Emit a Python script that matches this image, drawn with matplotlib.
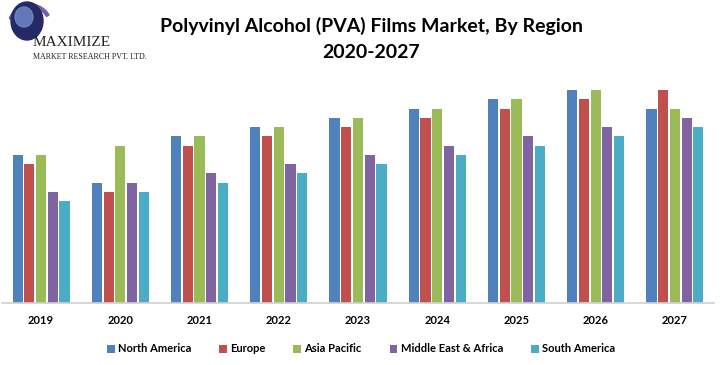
import matplotlib
matplotlib.use("Agg")
import matplotlib.pyplot as plt
import numpy as np
from matplotlib.patches import Ellipse, Wedge

years = ["2019", "2020", "2021", "2022", "2023", "2024", "2025", "2026", "2027"]
regions = ["North America", "Europe", "Asia Pacific", "Middle East & Africa", "South America"]
north_america = [16, 13, 18, 19, 20, 21, 22, 23, 21]
europe = [15, 12, 17, 18, 19, 20, 21, 22, 23]
asia_pacific = [16, 17, 18, 19, 20, 21, 22, 23, 21]
middle_east_africa = [12, 13, 14, 15, 16, 17, 18, 19, 20]
south_america = [11, 12, 13, 14, 15, 16, 17, 18, 19]
colors = ["#4F81BD", "#C0504D", "#9BBB59", "#8064A2", "#4BACC6"]

series = [north_america, europe, asia_pacific, middle_east_africa, south_america]

FONT = "Lato"
W, H = 727, 365
fig = plt.figure(figsize=(W / 100, H / 100), dpi=100)
ax = fig.add_axes([1.5 / W, (H - 303) / H, (714.5 - 1.5) / W, (303 - 80) / H])

x = np.arange(len(years))
slot = 0.148
bw = 0.128
for i, (vals, name, c) in enumerate(zip(series, regions, colors)):
    ax.bar(x + (i - 2) * slot, vals, width=bw, color=c, label=name, zorder=2)

ax.set_xlim(-0.5, len(years) - 0.5)
ax.set_ylim(0, 24.1)
ax.set_yticks([])
ax.set_xticks(x)
ax.set_xticklabels(years, fontfamily=FONT, fontweight="bold", fontsize=8)
ax.tick_params(axis="x", length=0, pad=9)
for s in ["top", "right", "left"]:
    ax.spines[s].set_visible(False)
ax.spines["bottom"].set_color("#D0D0D0")
ax.spines["bottom"].set_linewidth(1.2)

leg = fig.legend(loc="center", bbox_to_anchor=(361 / W, (H - 349) / H), ncol=5, frameon=False,
                 prop={"family": FONT, "weight": "bold", "size": 8},
                 handlelength=0.7, handleheight=0.7, handletextpad=0.3, columnspacing=2.5)

fig.text(371 / W, (H - 26) / H, "Polyvinyl Alcohol (PVA) Films Market, By Region",
         ha="center", va="center", fontfamily=FONT, fontweight="bold", fontsize=14)
fig.text(371 / W, (H - 52) / H, "2020-2027",
         ha="center", va="center", fontfamily=FONT, fontweight="bold", fontsize=14)

# logo
lax = fig.add_axes([0, (H - 70) / H, 160 / W, 70 / H])
lax.set_xlim(0, 160)
lax.set_ylim(70, 0)
lax.axis("off")
lax.add_patch(Wedge((30, 26), 22, 200, 330, width=3, color="#7A5FA8"))
lax.add_patch(Ellipse((27, 21), 32, 38, color="#252A66"))
lax.add_patch(Ellipse((24, 17), 18, 20, color="#6F86C9", alpha=0.85))
lax.text(33, 42, "MAXIMIZE", fontfamily="Liberation Serif", fontsize=11, color="#222222",
         va="center", ha="left")
lax.text(33, 57, "MARKET RESEARCH PVT. LTD.", fontfamily="Liberation Serif", fontsize=5.8,
         color="#222222", va="center", ha="left")

fig.savefig("out.png", dpi=100)
